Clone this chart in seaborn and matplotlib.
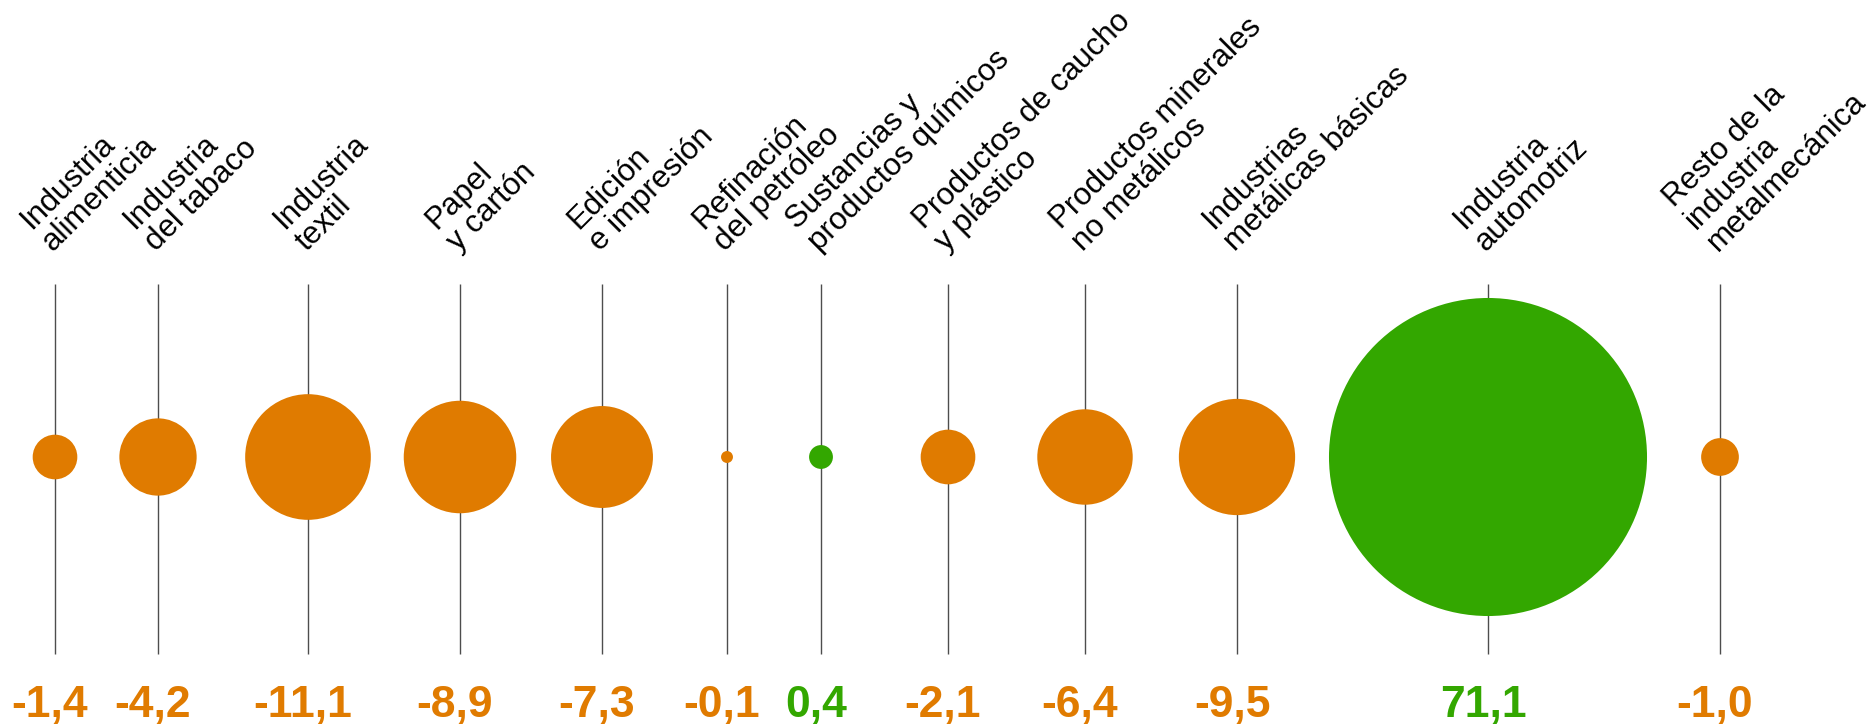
import numpy as np
import pandas as pd
import matplotlib
matplotlib.use("Agg")
import matplotlib.pyplot as plt
import seaborn as sns

# -------------------------------------------- DATA -------------------------------------------- #
sectores = ["Industria\nalimenticia", "Industria\ndel tabaco", "Industria\ntextil",
            "Papel\ny cartón", "Edición\ne impresión", "Refinación\ndel petróleo",
            "Sustancias y\nproductos químicos", "Productos de caucho\ny plástico",
            "Productos minerales\nno metálicos", "Industrias\nmetálicas básicas",
            "Industria\nautomotriz", "Resto de la\nindustria\nmetalmecánica"]
variacion = [-1.4, -4.2, -11.1, -8.9, -7.3, -0.1, 0.4, -2.1, -6.4, -9.5, 71.1, -1.0]

# -------------------------------------------- LAYOUT -------------------------------------------- #
# pixel column of each sector (figure is drawn in pixel coordinates)
pos_x = [55, 158, 308, 460, 602, 727, 821, 948, 1085, 1237, 1488, 1720]
fila_y = 457
NARANJA = "#E07B00"
VERDE = "#33A700"

sns.set_style("white")
plt.rcParams['font.family'] = ['Liberation Sans', 'DejaVu Sans']

df = pd.DataFrame({"sector": sectores, "valor": variacion, "x": pos_x})
df["y"] = fila_y
df["abs"] = df["valor"].abs()
df["signo"] = np.where(df["valor"] >= 0, "sube", "baja")

fig = plt.figure(figsize=(18.72, 7.24), dpi=100)
ax = fig.add_axes([0, 0, 1, 1])
ax.set_xlim(0, 1872)
ax.set_ylim(724, 0)
ax.axis('off')

# guide lines behind the circles
ax.vlines(df["x"], 284, 654, color="#4d4d4d", lw=1.0, zorder=1)

# circle area proportional to |variation|
vmax = df["abs"].max()
sns.scatterplot(data=df, x="x", y="y", size="abs", sizes=(0, 737.5 * vmax),
                size_norm=(0, vmax), hue="signo",
                palette={"sube": VERDE, "baja": NARANJA},
                legend=False, linewidth=0, zorder=2, ax=ax)

for _, r in df.iterrows():
    ax.text(r["x"] + 3, 257, r["sector"], rotation=45, rotation_mode='anchor',
            ha='left', va='bottom', fontsize=22.5, linespacing=1.05, color='black')
    col = VERDE if r["valor"] >= 0 else NARANJA
    txt = f"{r['valor']:.1f}".replace(".", ",")
    ax.text(r["x"] - 5, 717, txt, ha='center', va='baseline', fontsize=32,
            fontweight='bold', color=col)

fig.savefig("out.png", dpi=100)
plt.close('all')
